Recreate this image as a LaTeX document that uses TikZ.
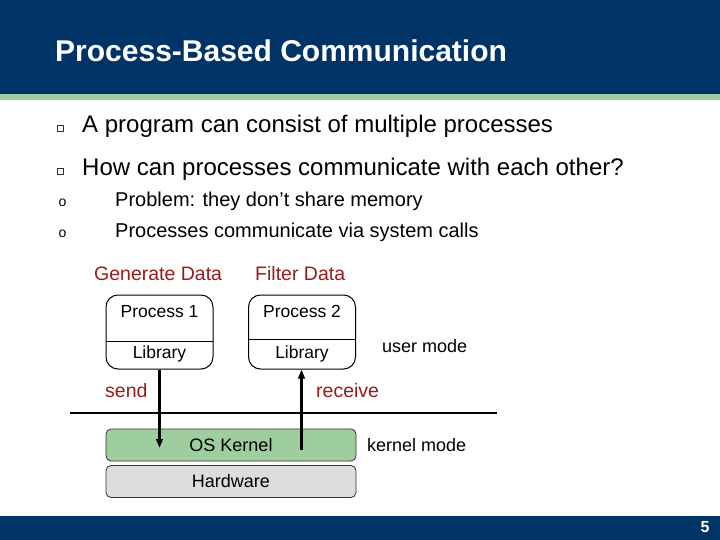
\documentclass[tikz,border=0pt]{standalone}
\usepackage{fontspec}
\setmainfont{Liberation Sans}
\usetikzlibrary{arrows.meta}
\definecolor{slideblue}{RGB}{0,51,102}
\definecolor{stripgreen}{RGB}{158,204,158}
\definecolor{kernelgreen}{RGB}{158,206,158}
\definecolor{hwgray}{RGB}{221,221,221}
\definecolor{labelred}{RGB}{150,28,28}
\tikzset{
  fs/.style={font=\fontsize{#1}{#1}\selectfont},
  procbox/.style={draw=black, line width=1pt, rounded corners=12pt, minimum width=107pt, minimum height=74pt, inner sep=0pt},
  layerbox/.style={draw=black!80, line width=0.8pt, rounded corners=5pt, minimum width=250pt, minimum height=32pt, inner sep=0pt, fs=18},
  redlabel/.style={text=labelred, fs=19.5, inner sep=0pt, anchor=base west},
  plainlabel/.style={text=black, fs=18, inner sep=0pt, anchor=base west},
  bulletsq/.style={draw=black!80, line width=0.9pt, minimum size=6pt, inner sep=0pt},
  link/.style={line width=2.6pt, -{Triangle[length=9pt,width=6.5pt]}},
}
\begin{document}
\begin{tikzpicture}[x=1pt,y=-1pt]
\useasboundingbox (0,0) rectangle (720,540);
% header and footer
\fill[slideblue] (0,0) rectangle (720,94);
\fill[stripgreen] (0,94) rectangle (720,100);
\fill[slideblue] (0,516) rectangle (720,540);
\node[anchor=base west, text=white, inner sep=0pt, font=\bfseries\fontsize{30}{30}\selectfont] (title) at (55,62) {Process-Based Communication};
\node[text=white, inner sep=0pt, font=\bfseries\fontsize{16}{16}\selectfont] (pageno) at (705,527) {5};
% bullets
\node[bulletsq] (b1) at (60,128) {};
\node[anchor=base west, fs=24, inner sep=0pt] (t1) at (82,133) {A program can consist of multiple processes};
\node[bulletsq] (b2) at (60,171) {};
\node[anchor=base west, fs=24, inner sep=0pt] (t2) at (82,176) {How can processes communicate with each other?};
\node[anchor=base west, fs=14, inner sep=0pt] (o1) at (58.5,207) {o};
\node[anchor=base west, fs=20, inner sep=0pt] (t3) at (115,207) {Problem: they don’t share memory};
\node[anchor=base west, fs=14, inner sep=0pt] (o2) at (58.5,237) {o};
\node[anchor=base west, fs=20, inner sep=0pt] (t4) at (115,237) {Processes communicate via system calls};
% diagram labels
\node[redlabel] (gen) at (94,280) {Generate Data};
\node[redlabel] (filt) at (255,280) {Filter Data};
% process boxes
\node[procbox] (p1) at (159.5,332) {};
\draw[line width=1pt] (106,341.5) -- (213,341.5);
\node[fs=17.5, inner sep=0pt] (p1t) at (159.5,311.5) {Process 1};
\node[fs=17.5, inner sep=0pt] (p1l) at (159.5,354) {Library};
\node[procbox] (p2) at (302,332) {};
\draw[line width=1pt] (248.5,339.5) -- (355.5,339.5);
\node[fs=17.5, inner sep=0pt] (p2t) at (302,311.5) {Process 2};
\node[fs=17.5, inner sep=0pt] (p2l) at (302,354) {Library};
\node[plainlabel] (um) at (382,352) {user mode};
\node[redlabel] (send) at (105,397) {send};
\node[redlabel] (recv) at (316,397) {receive};
% boundary line
\coordinate (hl) at (70,413);
\coordinate (hr) at (497,413);
\draw[line width=2.8pt] (hl) -- (hr);
% kernel and hardware
\node[layerbox, fill=kernelgreen] (kern) at (231,445) {OS Kernel};
\node[layerbox, fill=hwgray] (hw) at (231,481.5) {Hardware};
\node[plainlabel] (km) at (367,451) {kernel mode};
% send / receive connectors
\coordinate (sendend) at (159.5,448);
\coordinate (recvstart) at (301.5,450);
\draw[link] (p1.south) -- (sendend);
\draw[link] (recvstart) -- (p2.south -| recvstart);
\end{tikzpicture}
\end{document}
